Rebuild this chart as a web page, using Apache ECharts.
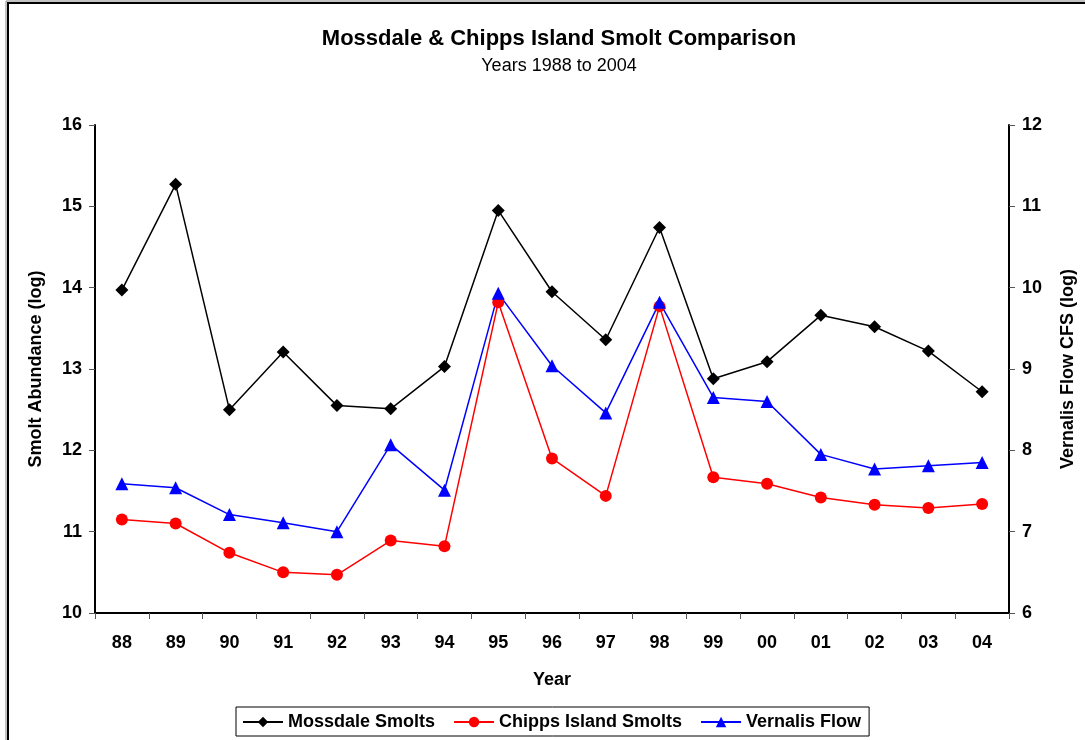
<!DOCTYPE html>
<html>
<head>
<meta charset="utf-8">
<script src="https://cdn.jsdelivr.net/npm/echarts@6/dist/echarts.min.js"></script>
<style>
html,body{margin:0;padding:0;background:#fff;}
#c{width:1085px;height:740px;}
</style>
</head>
<body>
<div id="c"></div>
<script>
const years = ['88','89','90','91','92','93','94','95','96','97','98','99','00','01','02','03','04'];
const mossdale = [13.97,15.27,12.50,13.21,12.55,12.51,13.03,14.95,13.95,13.36,14.74,12.88,13.09,13.66,13.52,13.22,12.72];
const chipps = [11.15,11.10,10.74,10.50,10.47,10.89,10.82,13.82,11.90,11.44,13.77,11.67,11.59,11.42,11.33,11.29,11.34];
const vernalis = [7.59,7.54,7.21,7.11,7.00,8.07,7.51,9.93,9.04,8.46,9.82,8.65,8.60,7.95,7.77,7.81,7.85];
const leftTicks = {min:10, max:16, interval:1};
const rightTicks = {min:6, max:12, interval:1};

const FONT = '"Liberation Sans", Arial, sans-serif';
const chart = echarts.init(document.getElementById('c'));
const axisLine = {show:true, lineStyle:{color:'#000', width:2}};
const axisTick = {show:true, length:6, lineStyle:{color:'#555', width:1}};
const lbl = {color:'#000', fontFamily:FONT, fontWeight:'bold', fontSize:18};
const nameStyle = {fontFamily:FONT, fontWeight:'bold', fontSize:18, color:'#000'};

chart.setOption({
  animation:false,
  backgroundColor:'#fff',
  graphic:[
    {type:'rect', shape:{x:6, y:1, width:1200, height:900}, style:{fill:'none', stroke:'#888', lineWidth:1}, silent:true},
    {type:'rect', shape:{x:8, y:3, width:1200, height:900}, style:{fill:'none', stroke:'#000', lineWidth:2}, silent:true}
  ],
  title:[
    {text:'Mossdale & Chipps Island Smolt Comparison', left:554, top:23, textAlign:'center',
     textStyle:{fontFamily:FONT, fontWeight:'bold', fontSize:22, color:'#000'}},
    {text:'Years 1988 to 2004', left:554, top:52, textAlign:'center',
     textStyle:{fontFamily:FONT, fontWeight:'normal', fontSize:18, color:'#000'}}
  ],
  grid:{left:95, right:74, top:125, height:488, containLabel:false},
  legend:{
    left:236, top:707, itemWidth:40, itemHeight:13, itemGap:18,
    borderColor:'#000', borderWidth:1, borderRadius:0, padding:[6,8,5,6],
    textStyle:{fontFamily:FONT, fontWeight:'bold', fontSize:18, color:'#000'},
    data:['Mossdale Smolts','Chipps Island Smolts','Vernalis Flow']
  },
  xAxis:{
    type:'category', data:years, boundaryGap:true,
    name:'Year', nameLocation:'middle', nameGap:58,
    nameTextStyle:nameStyle,
    axisLine:axisLine, axisTick:{show:true, length:6, alignWithLabel:false, lineStyle:{color:'#555'}},
    axisLabel:Object.assign({margin:21}, lbl),
    splitLine:{show:false}
  },
  yAxis:[
    {type:'value', position:'left', min:leftTicks.min, max:leftTicks.max, interval:leftTicks.interval,
     name:'Smolt Abundance (log)', nameLocation:'middle', nameGap:50,
     nameTextStyle:nameStyle,
     axisLine:axisLine, axisTick:axisTick, axisLabel:Object.assign({margin:13}, lbl), splitLine:{show:false}},
    {type:'value', position:'right', min:rightTicks.min, max:rightTicks.max, interval:rightTicks.interval,
     name:'Vernalis Flow CFS (log)', nameLocation:'middle', nameGap:50,
     nameTextStyle:nameStyle,
     axisLine:axisLine, axisTick:axisTick, axisLabel:Object.assign({margin:13}, lbl), splitLine:{show:false}}
  ],
  series:[
    {name:'Mossdale Smolts', type:'line', yAxisIndex:0, data:mossdale, symbol:'diamond', symbolSize:13,
     lineStyle:{color:'#000', width:1.5}, itemStyle:{color:'#000'}},
    {name:'Chipps Island Smolts', type:'line', yAxisIndex:0, data:chipps, symbol:'circle', symbolSize:12,
     lineStyle:{color:'#ff0000', width:1.5}, itemStyle:{color:'#ff0000'}},
    {name:'Vernalis Flow', type:'line', yAxisIndex:1, data:vernalis, symbol:'triangle', symbolSize:13,
     lineStyle:{color:'#0000ff', width:1.5}, itemStyle:{color:'#0000ff'}}
  ]
});
</script>
</body>
</html>
